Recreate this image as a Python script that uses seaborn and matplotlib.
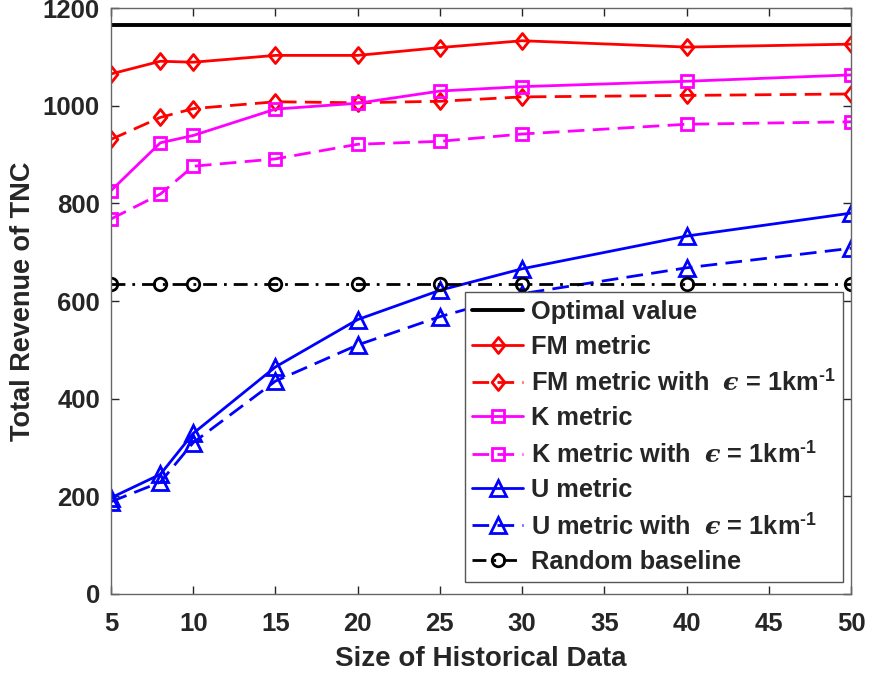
import matplotlib
matplotlib.use("Agg")
import matplotlib.pyplot as plt
import seaborn as sns
import pandas as pd
from matplotlib.path import Path

sizes = [5, 8, 10, 15, 20, 25, 30, 40, 50]
optimal_value = [1165] * 9
fm_metric = [1065, 1091, 1089, 1103, 1103, 1119, 1133, 1120, 1126]
fm_metric_eps = [931, 976, 994, 1008, 1006, 1009, 1018, 1021, 1024]
k_metric = [826, 924, 939, 993, 1005, 1030, 1039, 1050, 1063]
k_metric_eps = [768, 819, 876, 891, 921, 927, 942, 962, 967]
u_metric = [197, 245, 329, 465, 562, 622, 666, 733, 780]
u_metric_eps = [189, 229, 310, 436, 510, 568, 615, 668, 708]
random_baseline = [635] * 9

eps_suffix = " with  $\\mathit{\u03f5}$ = 1km$^{\\mathbf{\u2010}\\mathbf{1}}$"
labels = [
    "Optimal value",
    "FM metric",
    "FM metric" + eps_suffix,
    "K metric",
    "K metric" + eps_suffix,
    "U metric",
    "U metric" + eps_suffix,
    "Random baseline",
]
series = [optimal_value, fm_metric, fm_metric_eps, k_metric, k_metric_eps,
          u_metric, u_metric_eps, random_baseline]
colors = ["black", "#ff0000", "#ff0000", "#ff00ff", "#ff00ff", "#0000ff", "#0000ff", "black"]
diamond = Path([(0, 1), (0.8, 0), (0, -1), (-0.8, 0), (0, 1)],
               [Path.MOVETO, Path.LINETO, Path.LINETO, Path.LINETO, Path.CLOSEPOLY])
markers = [None, diamond, diamond, "s", "s", "^", "^", "o"]
dashes = ["-", "-", (0, (6, 3)), "-", (0, (6, 3)), "-", (0, (6, 3)), (0, (5, 2.5, 1, 2.5))]
msizes = [0, 11.5, 11.5, 8.5, 8.5, 11, 11, 9]

sns.set_style("ticks")
plt.rcParams["font.family"] = ["Liberation Sans", "DejaVu Sans"]
plt.rcParams["font.weight"] = "bold"
plt.rcParams["mathtext.fontset"] = "custom"
plt.rcParams["mathtext.bf"] = "Liberation Sans:bold"
plt.rcParams["mathtext.rm"] = "Liberation Sans:bold"
plt.rcParams["mathtext.it"] = "DejaVu Serif:italic"

fig = plt.figure(figsize=(8.72, 6.74), dpi=100)
ax = fig.add_axes([0.1273, 0.1187, 0.8487, 0.8694])

for vals, lab, col, mk, ls, ms in zip(series, labels, colors, markers, dashes, msizes):
    df = pd.DataFrame({"x": sizes, "y": vals})
    sns.lineplot(data=df, x="x", y="y", ax=ax, color=col, linewidth=2.0,
                 marker=mk, markersize=ms, markeredgewidth=2.0,
                 markerfacecolor="none", markeredgecolor=col, label=lab)
    ax.lines[-1].set_linestyle(ls)
    if lab == "Optimal value":
        ax.lines[-1].set_linewidth(2.8)

ax.set_xlim(5, 50)
ax.set_ylim(0, 1200)
ax.set_xticks(range(5, 51, 5))
ax.set_yticks(range(0, 1201, 200))
ax.tick_params(direction="in", length=6, width=1, colors="#262626",
               labelsize=18.5, top=True, right=True)
ax.tick_params(axis="x", pad=13)
ax.tick_params(axis="y", pad=8)
for lbl in ax.get_xticklabels() + ax.get_yticklabels():
    lbl.set_fontweight("bold")
for sp in ax.spines.values():
    sp.set_visible(True)
    sp.set_color("#666666")
    sp.set_linewidth(1.0)

ax.set_xlabel("Size of Historical Data", fontsize=20, fontweight="bold", color="#262626", labelpad=7)
ax.set_ylabel("Total Revenue of TNC", fontsize=19.5, fontweight="bold", color="#262626", labelpad=5)

leg = ax.legend(loc="upper left", bbox_to_anchor=(0.478, 0.515), borderaxespad=0,
                fontsize=18.3, frameon=True, fancybox=False, handlelength=2.0,
                labelspacing=0.42, handletextpad=0.3, borderpad=0.3)
leg.get_frame().set_edgecolor("#555555")
leg.get_frame().set_linewidth(1.0)
leg.get_frame().set_alpha(1)
for t in leg.get_texts():
    t.set_fontweight("bold")

fig.savefig("out.png", dpi=100)
